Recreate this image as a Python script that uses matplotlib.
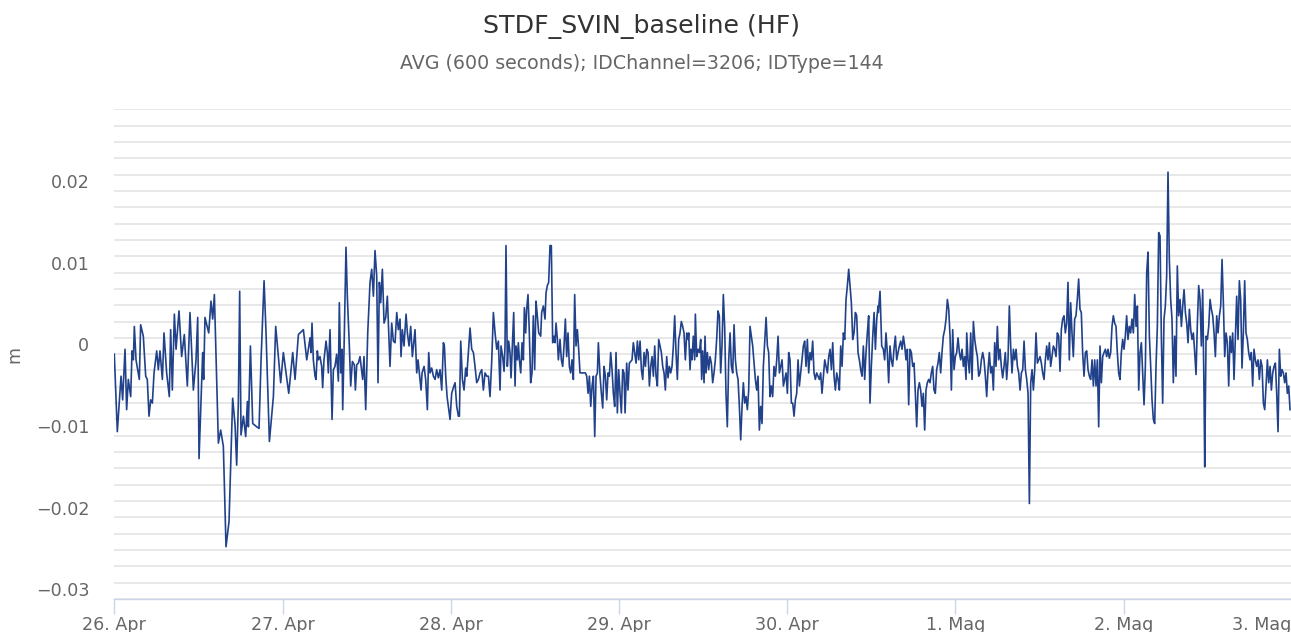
import numpy as np
import matplotlib.pyplot as plt
from matplotlib.ticker import FixedLocator, MultipleLocator, FuncFormatter
from matplotlib.transforms import ScaledTranslation

# Baseline displacement.
# Hours since 26 Apr 00:00 and displacement in millimetres, in six stretches.
seg1_h = [
    0.0, 0.43, 0.96, 1.19, 1.53, 1.76, 2.0, 2.34, 2.53, 2.72,
    2.86, 3.10, 3.57, 3.76, 4.14, 4.48, 4.71, 4.95, 5.19, 5.43,
    5.67, 6.05, 6.28, 6.52, 6.86, 7.09, 7.47, 7.85, 8.04, 8.28,
    8.57, 8.81, 9.23, 9.61, 9.99, 10.42, 10.8, 11.28, 11.66, 11.9,
    12.09, 12.61, 12.75, 12.94, 13.47, 13.8, 14.04, 14.28, 14.85, 15.18,
    15.56, 15.94, 16.37, 16.89, 17.23, 17.46, 17.7, 17.89, 18.08, 18.42,
    18.75, 18.99, 19.13, 19.42, 19.75, 20.32, 20.65, 20.94, 21.37, 21.65,
    22.13, 22.7, 23.03, 23.74, 24.12, 24.89, 25.46, 25.79, 26.27, 26.98,
    27.46, 27.93]
seg1_mm = [
    -2.0, -11.5, -4.7, -7.6, -1.4, -8.8, -5.1, -7.2, -1.6, -2.7,
    1.4, -2.7, -5.1, 1.6, 0.2, -4.7, -5.1, -9.6, -7.6, -8.0,
    -4.3, -1.6, -3.9, -1.6, -5.1, 0.6, -4.3, -7.2, 1.0, -6.4,
    2.9, -1.4, 3.3, -2.3, 0.4, -5.9, 3.1, -6.4, -2.7, 2.5,
    -14.8, -1.8, -5.1, 2.5, 0.6, 4.5, 2.3, 5.3, -12.9, -11.3,
    -13.3, -25.6, -22.5, -7.4, -10.7, -15.6, -8.0, 5.7, -11.9, -9.6,
    -12.1, -7.8, -10.9, -1.0, -10.5, -10.9, -11.1, -2.7, 7.0, 0.6,
    -12.7, -7.2, 1.4, -5.5, -1.8, -6.8, -1.8, -5.1, 0.4, 1.0,
    -2.7, 0.0]

seg2_h = [
    28.07, 28.21, 28.4, 28.64, 28.78, 28.97, 29.12, 29.35, 29.59, 29.73,
    29.92, 30.21, 30.4, 30.54, 30.78, 31.07, 31.26, 31.49, 31.73, 31.97,
    32.11, 32.3, 32.49, 32.59, 32.78, 33.06, 33.25, 33.54, 33.73, 33.97,
    34.25, 34.4, 34.59, 34.82, 35.06, 35.44, 35.63, 35.87, 36.16, 36.49,
    36.73, 36.97, 37.2, 37.44, 37.63, 37.82, 38.01, 38.25, 38.49, 38.73,
    38.96, 39.11, 39.34, 39.58, 39.82, 40.06, 40.3, 40.53, 40.77, 40.91,
    41.1, 41.34, 41.63, 41.82, 42.06, 42.29, 42.53, 42.91, 43.15, 43.34,
    43.77, 43.91, 44.2, 44.43, 44.67, 44.86, 45.05, 45.29, 45.53, 45.77,
    46.0, 46.24, 46.48, 46.72, 46.96, 47.1, 47.29, 47.48, 47.72, 47.91,
    48.14, 48.38, 48.62, 48.86, 49.1, 49.24, 49.43, 49.67, 49.9, 50.14,
    50.29, 50.52, 50.76, 51.0, 51.24, 51.47, 51.71, 51.95, 52.19, 52.43,
    52.66, 52.9, 53.14, 53.38, 53.61, 53.85, 54.09, 54.33, 54.57]
seg2_mm = [
    -1.8, 1.8, -2.7, -4.7, -5.1, -1.6, -2.7, -2.3, -3.5, -6.1,
    -2.7, -0.4, -1.8, -4.3, 1.0, -10.0, -3.9, -3.5, -2.0, -5.3,
    4.3, -4.3, -1.4, -8.8, -1.4, 11.1, 5.1, -1.0, -5.9, -2.9,
    -3.3, -6.4, -3.3, -3.1, -2.3, -5.1, -2.3, -8.8, 0.6, 6.8,
    8.4, 5.1, 10.7, 7.6, -5.5, 6.8, 4.3, 8.4, 1.8, 2.5,
    5.1, 1.8, -3.5, 1.8, -0.4, -0.6, 3.1, 1.0, 2.3, -2.3,
    1.0, -1.0, 2.9, 0.6, -1.0, 1.4, -2.3, 1.0, -4.3, -2.7,
    -6.4, -4.3, -3.5, -5.1, -8.8, -1.8, -4.3, -3.7, -4.7, -5.1,
    -3.9, -4.9, -3.9, -6.4, -0.6, -1.0, -4.7, -7.2, -8.8, -10.0,
    -6.8, -6.1, -5.5, -8.4, -9.6, -9.6, -0.4, -5.1, -6.4, -3.7,
    -4.7, -1.8, 1.2, -1.4, -1.8, -3.5, -5.5, -5.1, -4.3, -3.9,
    -6.4, -4.3, -4.7, -4.7, -7.2, -2.9, 3.1, 0.6, -1.4]

seg3_h = [
    54.66, 54.8, 55.04, 55.18, 55.42, 55.61, 55.75, 55.89, 56.08, 56.27,
    56.46, 56.61, 56.8, 56.99, 57.18, 57.32, 57.51, 57.65, 57.8, 57.99,
    58.18, 58.37, 58.51, 58.7, 58.84, 59.03, 59.22, 59.41, 59.6, 59.79,
    59.98, 60.17, 60.36, 60.56, 60.84, 60.98, 61.22, 61.46, 61.6, 61.79,
    61.98, 62.17, 62.36, 62.55, 62.74, 62.89, 63.03, 63.22, 63.36, 63.6,
    63.79, 63.98, 64.17, 64.36, 64.55, 64.74, 64.93, 65.12, 65.31, 65.5,
    65.69, 65.88, 66.07, 66.26, 66.45, 66.83, 67.22, 67.41, 67.6, 67.79,
    67.98, 68.17, 68.36, 68.55, 68.74, 68.93, 69.07, 69.31, 69.5, 69.69,
    69.88, 70.07, 70.26, 70.45, 70.64, 70.83, 71.02, 71.21, 71.4, 71.59,
    71.78, 71.97, 72.16, 72.35, 72.54, 72.73, 72.88, 73.11, 73.3, 73.49,
    73.87, 74.06, 74.25, 74.45, 74.64, 74.83, 75.02, 75.21, 75.4, 75.59,
    75.78, 75.97, 76.16, 76.35, 76.54, 76.73, 76.92, 77.11, 77.3, 77.49,
    77.68, 77.87, 78.06, 78.25, 78.44, 78.63, 78.82, 79.01, 79.2, 79.39,
    79.58, 79.77, 79.96, 80.15, 80.34, 80.53, 80.72, 80.91, 81.1, 81.29,
    81.48, 81.68, 81.87]
seg3_mm = [
    -1.0, -0.4, -6.4, -1.0, -2.3, -4.1, -1.0, 11.3, -3.5, -0.4,
    -1.8, -4.9, -1.0, 3.1, -5.9, -1.0, -2.7, -0.6, -2.7, -4.3,
    -0.6, -2.7, 3.7, 0.6, 3.5, 5.3, 0.6, -5.5, -4.3, 2.7,
    -3.9, 4.5, 2.7, 0.6, 0.2, 3.1, 3.9, 2.3, 5.5, 6.4,
    6.8, 11.3, 11.3, -0.6, 0.2, -0.6, 1.8, -0.2, -2.7, -0.2,
    -2.7, -3.5, -1.0, 2.3, -2.3, 0.6, -3.5, -4.3, -2.7, -5.1,
    5.3, -1.0, 1.0, -1.4, -4.3, -4.3, -4.3, -4.7, -6.8, -4.7,
    -8.4, -5.9, -4.7, -12.1, -4.7, -4.3, -0.6, -4.7, -6.8, -8.6,
    -3.5, -4.7, -7.6, -4.3, -4.7, -1.8, -3.9, -6.8, -8.4, -1.8,
    -9.2, -3.9, -6.8, -9.2, -3.9, -4.3, -9.2, -3.1, -6.4, -3.1,
    -2.7, -0.6, -1.8, -3.1, -0.4, -2.7, -0.4, -3.9, -5.1, -1.8,
    -3.5, -1.4, -1.8, -5.9, -3.5, -2.3, -4.7, -1.0, -4.7, -5.9,
    -0.2, -1.0, -1.8, -3.5, -4.3, -6.4, -2.3, -4.9, -3.5, -4.3,
    -3.5, -1.0, 2.7, -1.8, -5.1, -0.2, 0.6, 2.0, 1.4, 0.6,
    -2.7, 0.6, -0.2]

seg4_h = [
    81.96, 82.15, 82.29, 82.43, 82.62, 82.81, 82.91, 83.1, 83.29, 83.48,
    83.67, 83.81, 83.95, 84.15, 84.29, 84.43, 84.62, 84.81, 85.0, 85.19,
    85.38, 85.57, 85.76, 85.95, 86.14, 86.33, 86.52, 86.71, 86.9, 87.09,
    87.28, 87.47, 87.67, 87.86, 88.05, 88.24, 88.43, 88.62, 88.81, 89.0,
    89.19, 89.38, 89.57, 89.76, 89.95, 90.14, 90.33, 90.52, 90.71, 90.9,
    91.09, 91.28, 91.47, 91.66, 91.85, 92.04, 92.23, 92.42, 92.61, 92.8,
    93.0, 93.19, 93.37, 93.56, 93.75, 93.94, 94.13, 94.33, 94.52, 94.71,
    94.9, 95.09, 95.28, 95.47, 95.66, 95.85, 96.04, 96.23, 96.42, 96.61,
    96.8, 96.99, 97.18, 97.37, 97.56, 97.75, 97.94, 98.13, 98.32, 98.51,
    98.7, 98.89, 99.08, 99.27, 99.46, 99.65, 99.84, 100.03, 100.22, 100.41,
    100.6, 100.79, 100.98, 101.18, 101.37, 101.56, 101.75, 101.94, 102.13, 102.32,
    102.51, 102.7, 102.89, 103.08, 103.27, 103.46, 103.65, 103.84, 104.03, 104.22,
    104.41, 104.6, 104.79, 104.98, 105.17, 105.36, 105.55, 105.74, 105.93, 106.12,
    106.31, 106.5, 106.69, 106.88, 107.07, 107.26, 107.45, 107.64, 107.83, 108.02,
    108.22, 108.41, 108.6, 108.79, 108.98]
seg4_mm = [
    0.6, -3.9, -1.4, -2.7, 0.2, -2.7, 2.9, -2.3, -1.4, -1.8,
    -0.2, -5.1, -1.6, -5.5, 0.2, -4.3, -1.8, -3.9, -2.3, -3.1,
    -5.5, -4.3, -2.7, -0.2, 3.3, 2.7, -4.3, -1.0, 5.3, 1.4,
    -6.8, -10.9, -2.7, 0.6, -3.5, -4.3, 1.6, -2.7, -4.3, -5.1,
    -8.4, -12.5, -8.4, -5.5, -8.0, -7.2, -8.8, -6.4, 1.4, 0.2,
    -1.0, -3.1, -5.1, -6.4, -4.7, -11.3, -8.4, -10.5, -3.5, -0.6,
    2.5, -1.0, -1.8, -7.2, -5.9, -7.2, -3.5, -4.7, -2.7, 0.2,
    -4.3, -3.5, -2.7, -5.9, -5.1, -4.3, -6.8, -1.8, -2.7, -8.0,
    -8.0, -9.6, -7.6, -6.8, -2.7, -5.9, -4.3, -2.7, -1.0, -0.4,
    -3.5, -0.2, -4.3, -1.8, -2.7, -0.4, -4.3, -5.1, -4.3, -4.7,
    -5.1, -4.3, -6.8, -4.7, -2.7, -3.5, -4.3, -2.3, -1.4, -3.9,
    -0.6, -4.7, -6.4, -4.3, -5.1, -6.4, -1.0, -3.5, 0.6, -0.2,
    4.7, 6.4, 8.4, 6.4, 4.3, -0.2, 0.6, 3.1, 2.7, -1.8,
    -2.7, -3.9, -4.7, -1.0, -5.1, -1.8, 0.6, 2.7, -8.0, -3.5,
    0.2, 3.1, -1.4, 2.3, 3.9]

seg5_h = [
    109.02, 109.26, 109.5, 109.73, 109.92, 110.11, 110.3, 110.49, 110.68, 110.87,
    111.06, 111.25, 111.45, 111.64, 111.83, 112.02, 112.21, 112.4, 112.59, 112.78,
    112.97, 113.16, 113.35, 113.54, 113.73, 113.92, 114.11, 114.3, 114.49, 114.68,
    114.87, 115.06, 115.25, 115.44, 115.63, 115.82, 116.01, 116.2, 116.39, 116.58,
    116.77, 116.96, 117.15, 117.34, 117.53, 117.72, 117.91, 118.1, 118.29, 118.49,
    118.68, 118.87, 119.06, 119.25, 119.44, 119.63, 119.82, 120.01, 120.2, 120.39,
    120.58, 120.77, 120.96, 121.15, 121.34, 121.53, 121.63, 121.82, 122.01, 122.2,
    122.39, 122.58, 122.77, 122.96, 123.15, 123.34, 123.53, 123.72, 123.91, 124.1,
    124.29, 124.48, 124.67, 124.86, 125.05, 125.24, 125.43, 125.62, 125.81, 126.0,
    126.19, 126.38, 126.57, 126.76, 126.95, 127.14, 127.33, 127.52, 127.71, 127.9,
    128.09, 128.29, 128.48, 128.67, 128.86, 129.05, 129.24, 129.43, 129.62, 129.81,
    130.0, 130.19, 130.38, 130.57, 130.76, 130.95, 131.14, 131.33, 131.52, 131.71,
    131.9, 132.09, 132.28, 132.47, 132.66, 132.85, 133.04, 133.23, 133.42, 133.61,
    133.8, 133.99, 134.18, 134.37, 134.56, 134.75, 134.94, 135.13, 135.32, 135.51,
    135.7, 135.89, 136.08]
seg5_mm = [
    3.1, 5.7, -1.0, -1.4, -2.7, 0.6, -1.8, -5.5, -1.0, -2.7,
    -3.5, -1.4, 0.2, -2.7, -1.8, -1.0, -0.4, -1.4, 0.2, -1.0,
    -2.7, -1.4, -8.2, -1.4, -1.8, -3.5, -3.1, -6.8, -10.9, -6.4,
    -5.5, -6.4, -8.4, -6.8, -11.3, -6.4, -5.5, -5.1, -5.5, -4.3,
    -3.5, -6.4, -6.8, -3.9, -3.1, -1.8, -4.3, -1.8, 0.2, 1.0,
    2.3, 4.7, 3.5, 0.2, -6.4, 1.0, -3.9, -2.3, -1.8, 0.0,
    -1.8, -2.7, -1.4, -3.5, -2.3, -5.1, 0.6, -2.7, -4.3, 0.6,
    -5.1, 2.0, -0.2, -1.4, -2.3, -4.7, -4.3, -2.7, -1.8, -2.7,
    -4.7, -7.2, -3.9, -1.8, -4.3, -3.5, -6.4, -0.6, -3.5, 1.4,
    -2.7, -1.4, -3.5, -4.9, -3.5, -1.8, -5.1, -2.7, 3.9, -1.0,
    -4.3, -1.4, -2.7, -1.4, -3.5, -4.3, -6.4, -4.3, -3.9, -0.4,
    -3.9, -5.1, -6.8, -20.3, -5.5, -3.9, -6.4, -3.9, 0.6, -3.1,
    -2.7, -2.3, -3.1, -4.3, -5.1, -2.7, -1.0, -2.7, -0.6, -3.5,
    -2.3, -1.0, -1.4, -2.3, 0.6, 0.2, -4.1, 1.0, 2.3, 2.7,
    0.6, 1.8, 6.8]

seg6_h = [
    136.27, 136.46, 136.65, 136.84, 137.03, 137.22, 137.41, 137.6, 137.79, 137.98,
    138.17, 138.37, 138.56, 138.75, 138.94, 139.13, 139.32, 139.51, 139.7, 139.89,
    140.08, 140.27, 140.46, 140.65, 140.84, 141.03, 141.22, 141.41, 141.6, 141.79,
    141.98, 142.17, 142.36, 142.55, 142.74, 142.93, 143.12, 143.31, 143.5, 143.69,
    143.88, 144.07, 144.26, 144.45, 144.64, 144.83, 145.02, 145.21, 145.41, 145.6,
    145.79, 145.98, 146.17, 146.36, 146.55, 146.74, 146.93, 147.12, 147.31, 147.5,
    147.69, 147.88, 148.07, 148.26, 148.45, 148.64, 148.83, 149.02, 149.21, 149.4,
    149.59, 149.78, 149.97, 150.16, 150.35, 150.54, 150.73, 150.92, 151.11, 151.3,
    151.49, 151.68, 151.87, 152.07, 152.26, 152.45, 152.64, 152.83, 153.02, 153.21,
    153.4, 153.59, 153.78, 153.97, 154.16, 154.35, 154.54, 154.73, 154.92, 155.11,
    155.3, 155.49, 155.59, 155.78, 155.97, 156.16, 156.35, 156.54, 156.73, 156.92,
    157.11, 157.3, 157.49, 157.68, 157.87, 158.06, 158.25, 158.44, 158.63, 158.82,
    159.01, 159.2, 159.39, 159.58, 159.77, 159.96, 160.15, 160.34, 160.53, 160.72,
    160.91, 161.1, 161.29, 161.48, 161.67, 161.86, 162.05, 162.24, 162.43, 162.62,
    162.81, 163.0, 163.2, 163.39, 163.58, 163.77, 163.96, 164.15, 164.34, 164.53,
    164.72, 164.91, 165.1, 165.29, 165.48, 165.67, 165.86, 166.05, 166.24, 166.43,
    166.62, 166.81, 167.0, 167.19, 167.38, 167.57, 167.76]
seg6_mm = [
    -2.7, 4.3, 0.6, -2.3, 2.3, 2.7, 4.7, 7.2, 3.5, 3.1,
    -1.8, -4.7, -1.8, -1.6, -3.9, -4.7, -5.1, -2.7, -5.9, -2.7,
    -5.9, -2.7, -10.9, -1.0, -5.5, -2.3, -1.8, -1.4, -2.3, -1.4,
    -2.5, -1.8, 1.4, 2.7, 1.8, 1.4, -1.8, -4.3, -5.1, -1.8,
    -0.2, -1.4, 0.2, 2.7, -0.2, 1.4, 0.6, 2.3, 0.6, 5.3,
    1.4, 3.9, -6.4, -1.8, -0.6, -4.3, -8.2, -3.5, 8.0, 10.5,
    0.2, -3.5, -7.6, -10.0, -10.5, -3.5, 1.4, 12.9, 12.5, 0.2,
    -8.0, 2.3, 3.9, 7.6, 20.3, 9.6, 4.7, 2.3, -5.5, 0.2,
    -4.7, 8.8, 2.7, 4.7, 1.4, 3.9, 5.9, 3.1, 1.8, -0.6,
    3.5, 1.0, -0.2, 0.6, -1.8, -4.5, 1.8, 6.4, 4.7, -1.0,
    5.9, -6.8, -15.8, 0.2, -0.2, 1.4, 4.7, 3.5, 2.7, 0.6,
    -2.3, 2.7, 0.6, 2.7, 3.9, 9.6, 4.3, -2.3, 0.6, -0.6,
    -5.9, 0.2, -1.8, 0.6, -5.1, 0.2, 5.1, -0.2, 7.0, 4.7,
    -3.7, 0.6, 7.0, 0.6, -0.2, -1.8, -2.7, -1.8, -5.9, -1.4,
    -2.7, -3.5, -2.7, -5.1, -2.7, -3.5, -8.0, -8.8, -5.9, -2.7,
    -5.5, -3.5, -6.4, -4.3, -3.5, -3.1, -6.8, -11.5, -1.4, -4.7,
    -3.9, -4.3, -5.5, -4.3, -6.8, -5.9, -8.8]

day_labels = ['26. Apr', '27. Apr', '28. Apr', '29. Apr',
              '30. Apr', '1. Mag', '2. Mag', '3. Mag']
y_ticks = [-0.03, -0.02, -0.01, 0.0, 0.01, 0.02]

hours = np.concatenate([seg1_h, seg2_h, seg3_h, seg4_h, seg5_h, seg6_h])
disp_m = np.concatenate([seg1_mm, seg2_mm, seg3_mm,
                         seg4_mm, seg5_mm, seg6_mm]) / 1000.0

W, H = 1291, 632
fig = plt.figure(figsize=(W / 100, H / 100), dpi=100)
# plot area in pixels: x 114.3 .. 1291.7, y 109.3 .. 599
ax = fig.add_axes([114.3 / W, 1 - 599 / H, (1291.7 - 114.3) / W, (599 - 109.3) / H])

ax.plot(hours, disp_m, color='#21428a', lw=1.2, zorder=3)

ax.set_xlim(0, 168)
ax.set_ylim(-0.032, 0.028)

# grid every 2 mm, labels every 10 mm
ax.yaxis.set_major_locator(FixedLocator(y_ticks))
ax.yaxis.set_minor_locator(MultipleLocator(0.002))
ax.yaxis.set_major_formatter(FuncFormatter(
    lambda v, p: '0' if abs(v) < 1e-9 else f'{v:.2f}'.replace('-', '\u2212')))
ax.grid(axis='y', which='both', color='#e6e6e6', lw=1.3)
ax.set_axisbelow(True)
ax.tick_params(axis='y', which='both', length=0, pad=18,
               labelsize=12.6, labelcolor='#666666')

ax.xaxis.set_major_locator(FixedLocator(np.arange(0, 169, 24)))
ax.set_xticklabels(day_labels)
ax.tick_params(axis='x', length=10.5, width=1, color='#ccd6eb', pad=1.5,
               labelsize=12.6, labelcolor='#666666')
ax.get_xticklabels()[-1].set_horizontalalignment('right')

for side in ['top', 'right', 'left']:
    ax.spines[side].set_visible(False)
ax.spines['bottom'].set_color('#ccd6eb')
ax.spines['bottom'].set_linewidth(1)

# y labels sit a little below their grid line
shift = ScaledTranslation(0, -6.5 / 100, fig.dpi_scale_trans)
for lab in ax.get_yticklabels():
    lab.set_transform(lab.get_transform() + shift)

ax.set_ylabel('m', fontsize=12.6, color='#666666')
ax.yaxis.set_label_coords((23 - 114.3) / (1291.7 - 114.3), 0.5)

fig.text(641.5 / W, 1 - 33.3 / H, 'STDF_SVIN_baseline (HF)', ha='center',
         va='baseline', fontsize=18.2, color='#333333')
fig.text(641.5 / W, 1 - 69.3 / H, 'AVG (600 seconds); IDChannel=3206; IDType=144',
         ha='center', va='baseline', fontsize=13.7, color='#666666')

fig.savefig('out.png', dpi=100)
